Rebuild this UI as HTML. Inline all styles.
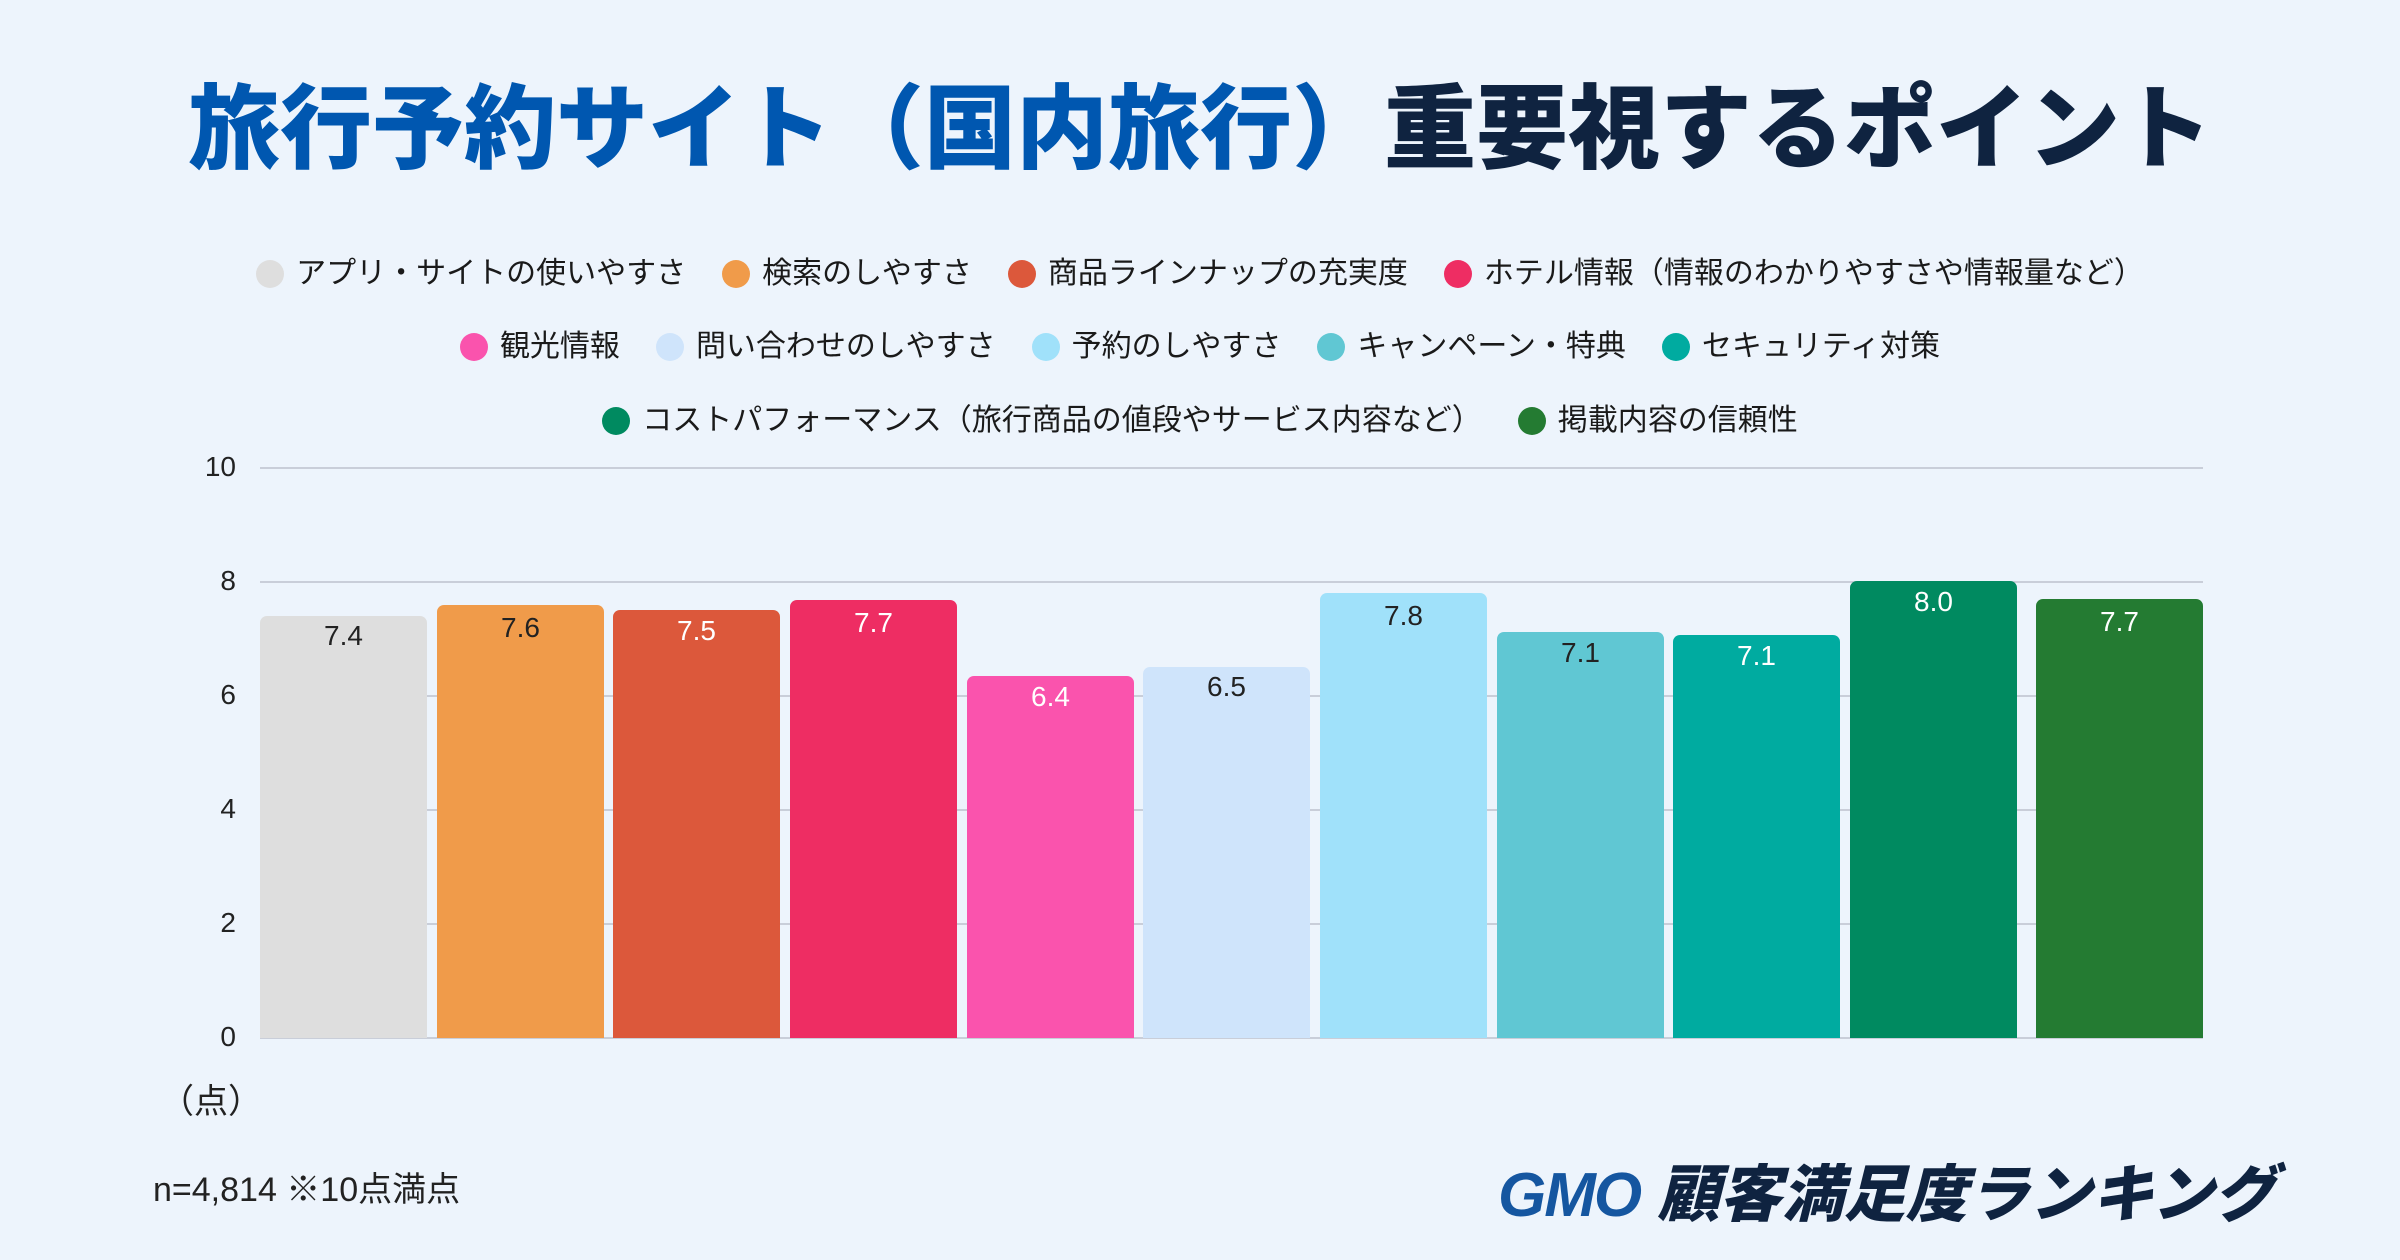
<!DOCTYPE html>
<html><head><meta charset="utf-8"><style>
body{margin:0;width:2400px;height:1260px;background:#edf4fc;position:relative;overflow:hidden;font-family:"Liberation Sans","Noto Sans CJK JP",sans-serif;}
.t{position:absolute;left:0;width:2400px;top:55px;text-align:center;font-size:92px;font-weight:900;white-space:nowrap;}
.leg{position:absolute;left:0;width:2400px;text-align:center;font-size:30px;color:#1a1a1a;white-space:nowrap;}
.leg span{display:inline-block;margin:0 18px;}
.leg i{display:inline-block;width:28px;height:28px;border-radius:50%;vertical-align:-5px;margin-right:12px;}
.g{position:absolute;left:260px;width:1943px;height:2px;background:#c9ced9;}
.yl{position:absolute;left:170px;width:66px;text-align:right;font-size:28px;color:#222;}
.b{position:absolute;width:167px;border-radius:7px 7px 0 0;bottom:222px;}
.v{position:absolute;width:167px;text-align:center;font-size:28px;}
</style></head><body>
<div class="t"><span style="color:#0057b0">旅行予約サイト（国内旅行）</span><span style="color:#0f2340">重要視するポイント</span></div>
<div class="leg" style="top:248px"><span><i style="background:#dedede"></i>アプリ・サイトの使いやすさ</span><span><i style="background:#f09b4a"></i>検索のしやすさ</span><span><i style="background:#dc583b"></i>商品ラインナップの充実度</span><span><i style="background:#ee2d63"></i>ホテル情報（情報のわかりやすさや情報量など）</span></div>
<div class="leg" style="top:321px"><span><i style="background:#fa53ad"></i>観光情報</span><span><i style="background:#cfe4fb"></i>問い合わせのしやすさ</span><span><i style="background:#a0e1fa"></i>予約のしやすさ</span><span><i style="background:#60c7d3"></i>キャンペーン・特典</span><span><i style="background:#00aba0"></i>セキュリティ対策</span></div>
<div class="leg" style="top:395px"><span><i style="background:#008a60"></i>コストパフォーマンス（旅行商品の値段やサービス内容など）</span><span><i style="background:#247b32"></i>掲載内容の信頼性</span></div>
<div class="g" style="top:467px"></div><div class="g" style="top:581px"></div><div class="g" style="top:695px"></div><div class="g" style="top:809px"></div><div class="g" style="top:923px"></div><div class="g" style="top:1037px"></div>
<div class="yl" style="top:451px">10</div><div class="yl" style="top:565px">8</div><div class="yl" style="top:679px">6</div><div class="yl" style="top:793px">4</div><div class="yl" style="top:907px">2</div><div class="yl" style="top:1021px">0</div>
<div class="b" style="left:260px;height:422px;background:#dedede"></div><div class="v" style="left:260px;top:620px;color:#222">7.4</div>
<div class="b" style="left:437px;height:433px;background:#f09b4a"></div><div class="v" style="left:437px;top:612px;color:#222">7.6</div>
<div class="b" style="left:613px;height:428px;background:#dc583b"></div><div class="v" style="left:613px;top:615px;color:#fff">7.5</div>
<div class="b" style="left:790px;height:438px;background:#ee2d63"></div><div class="v" style="left:790px;top:607px;color:#fff">7.7</div>
<div class="b" style="left:967px;height:362px;background:#fa53ad"></div><div class="v" style="left:967px;top:681px;color:#fff">6.4</div>
<div class="b" style="left:1143px;height:371px;background:#cfe4fb"></div><div class="v" style="left:1143px;top:671px;color:#222">6.5</div>
<div class="b" style="left:1320px;height:445px;background:#a0e1fa"></div><div class="v" style="left:1320px;top:600px;color:#222">7.8</div>
<div class="b" style="left:1497px;height:406px;background:#60c7d3"></div><div class="v" style="left:1497px;top:637px;color:#222">7.1</div>
<div class="b" style="left:1673px;height:403px;background:#00aba0"></div><div class="v" style="left:1673px;top:640px;color:#fff">7.1</div>
<div class="b" style="left:1850px;height:457px;background:#008a60"></div><div class="v" style="left:1850px;top:586px;color:#fff">8.0</div>
<div class="b" style="left:2036px;height:439px;background:#247b32;width:167px"></div><div class="v" style="left:2036px;top:606px;color:#fff">7.7</div>
<div style="position:absolute;left:160px;top:1074px;font-size:34px;color:#222">（点）</div>
<div style="position:absolute;left:153px;top:1162px;font-size:34px;color:#222">n=4,814 ※10点満点</div>
<div style="position:absolute;left:1498px;top:1144px;font-size:62px;font-weight:900;font-style:italic;white-space:nowrap"><span style="color:#1556a0;letter-spacing:-2px">GMO</span> <span style="color:#0f2340">顧客満足度ランキング</span></div>
</body></html>
